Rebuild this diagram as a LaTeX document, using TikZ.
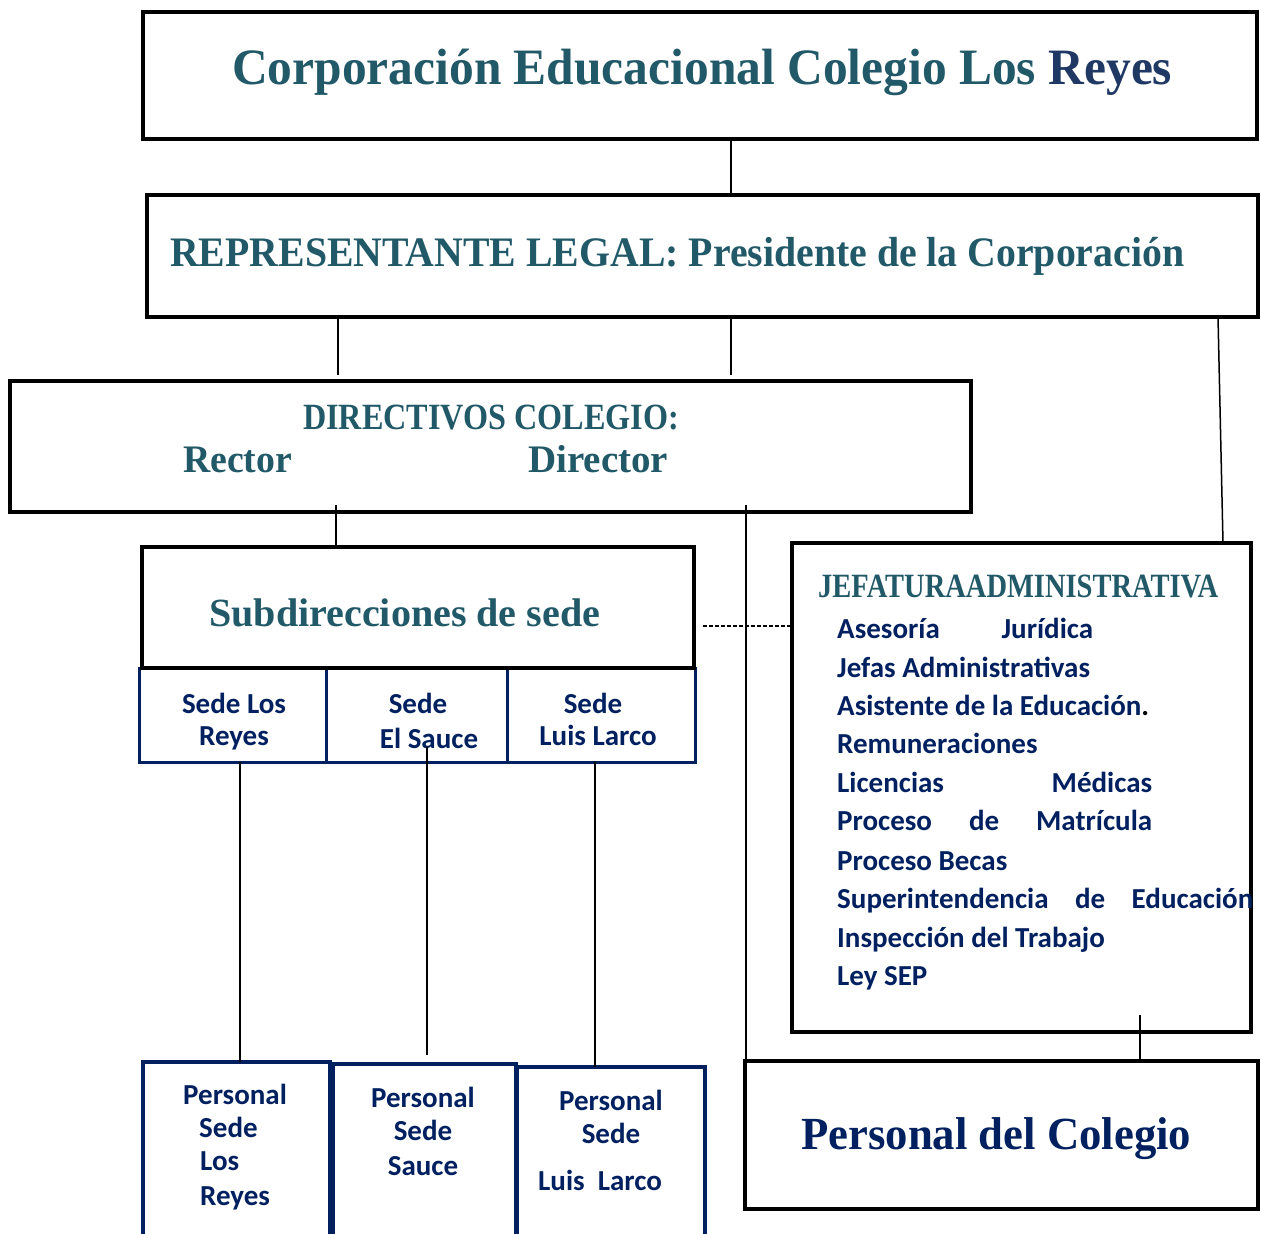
\documentclass[tikz,border=0pt]{standalone}
\usepackage{fontspec}
\usepackage{graphicx}
\setmainfont{Liberation Serif}
\newfontfamily\sansfnt{Carlito}
\definecolor{teal1}{RGB}{33,89,104}
\definecolor{navy1}{RGB}{0,32,96}
\definecolor{reyes1}{RGB}{31,56,100}
\newcommand\headfit[2]{\resizebox{#1}{\height}{#2}}
\tikzset{
  bigbox/.style={draw=black, line width=4.5pt, inner sep=0pt, outer sep=0pt},
  sedebox/.style={draw=navy1, line width=3pt, inner sep=0pt, outer sep=0pt},
  psbox/.style={draw=navy1, line width=4pt, inner sep=0pt, outer sep=0pt},
  conn/.style={draw=black, line width=1.5pt},
  head/.style={text=teal1, inner sep=0pt, anchor=base west},
  itemw/.style={font=\sansfnt\bfseries\fontsize{29}{33}\selectfont, text=navy1, inner sep=0pt, anchor=base west},
  itemc/.style={font=\sansfnt\bfseries\fontsize{29}{33}\selectfont, text=navy1, inner sep=0pt, anchor=base},
}
\begin{document}
\begin{tikzpicture}[x=1pt,y=-1pt]
\clip (0,0) rectangle (1261,1234);
\fill[white] (0,0) rectangle (1261,1234);

% boxes
\node[bigbox, minimum width=1114pt, minimum height=127pt] (title) at (700,75.5) {};
\node[bigbox, minimum width=1111pt, minimum height=122pt] (rep) at (702.5,256) {};
\node[bigbox, minimum width=961pt, minimum height=131pt] (dir) at (490.5,446.5) {};
\node[sedebox, minimum width=187pt, minimum height=94pt] (sedeA) at (232.5,715) {};
\node[sedebox, minimum width=181pt, minimum height=94pt] (sedeB) at (416.5,715) {};
\node[sedebox, minimum width=188pt, minimum height=94pt] (sedeC) at (601,715) {};
\node[bigbox, minimum width=552pt, minimum height=121pt] (sub) at (418,607.5) {};
\node[bigbox, minimum width=459pt, minimum height=489pt] (jef) at (1021.5,787.5) {};
\node[bigbox, minimum width=513pt, minimum height=148pt] (pc) at (1001.5,1135) {};
\node[psbox, minimum width=187pt, minimum height=198pt] (psA) at (236.5,1161) {};
\node[psbox, minimum width=183pt, minimum height=196pt] (psB) at (424.5,1162) {};
\node[psbox, minimum width=188pt, minimum height=193pt] (psC) at (611,1163.5) {};

% headings
\node[head, font=\bfseries\fontsize{51}{60}\selectfont] (tTitle) at (232,84)
  {\headfit{940pt}{Corporación Educacional Colegio Los \textcolor{reyes1}{Reyes}}};
\node[head, font=\bfseries\fontsize{42}{50}\selectfont] (tRep) at (170,266)
  {\headfit{1014pt}{REPRESENTANTE LEGAL: Presidente de la Corporación}};
\node[head, font=\bfseries\fontsize{37}{44}\selectfont] (tDir) at (303,429)
  {\headfit{376pt}{DIRECTIVOS COLEGIO:}};
\node[head, font=\bfseries\fontsize{39}{46}\selectfont] (tRector) at (183,472)
  {\headfit{109pt}{Rector}};
\node[head, font=\bfseries\fontsize{39}{46}\selectfont] (tDirector) at (528,472)
  {\headfit{140pt}{Director}};
\node[head, font=\bfseries\fontsize{40}{47}\selectfont] (tSub) at (209,626)
  {\headfit{391pt}{Subdirecciones de sede}};
\node[head, font=\bfseries\fontsize{34}{40}\selectfont] (tJef) at (818,597)
  {\headfit{400pt}{JEFATURAADMINISTRATIVA}};
\node[head, text=navy1, font=\bfseries\fontsize{46}{54}\selectfont] (tPc) at (801,1149)
  {\headfit{390pt}{Personal del Colegio}};

% sede texts
\node[itemc] (sA1) at (234,713) {Sede Los};
\node[itemc] (sA2) at (234,745) {Reyes};
\node[itemc] (sB1) at (418,713) {Sede};
\node[itemc] (sB2) at (429,748) {El Sauce};
\node[itemc] (sC1) at (593,713) {Sede};
\node[itemc] (sC2) at (598,745) {Luis Larco};

% jefatura items
\node[itemw] (j01) at (837,638) {\hbox to 256pt{Asesoría\hfill Jurídica}};
\node[itemw] (j02) at (837,677) {Jefas Administrativas};
\node[itemw] (j03) at (837,715) {Asistente de la Educación\textcolor{black}{.}};
\node[itemw] (j04) at (837,753) {Remuneraciones};
\node[itemw] (j05) at (837,792) {\hbox to 315pt{Licencias\hfill Médicas}};
\node[itemw] (j06) at (837,830) {\hbox to 315pt{Proceso\hfill de\hfill Matrícula}};
\node[itemw] (j07) at (837,870) {Proceso Becas};
\node[itemw] (j08) at (837,908) {\hbox to 416pt{Superintendencia\hfill de\hfill Educación}};
\node[itemw] (j09) at (837,947) {Inspección del Trabajo};
\node[itemw] (j10) at (837,985) {Ley SEP};

% personal sede texts
\node[itemw] (pA1) at (183,1104) {Personal};
\node[itemw] (pA2) at (199,1137) {Sede};
\node[itemw] (pA3) at (200,1170) {Los};
\node[itemw] (pA4) at (200,1205) {Reyes};
\node[itemc] (pB1) at (423,1107) {Personal};
\node[itemc] (pB2) at (423,1140) {Sede};
\node[itemc] (pB3) at (423,1175) {Sauce};
\node[itemc] (pC1) at (611,1110) {Personal};
\node[itemc] (pC2) at (611,1143) {Sede};
\node[itemc] (pC3) at (600,1190) {Luis\ \ Larco};

% connectors
\coordinate (x731) at (731,0);
\draw[conn] (title.south -| x731) -- (rep.north -| x731);
\coordinate (e1) at (338,375);
\draw[conn] (rep.south -| e1) -- (e1);
\coordinate (e2) at (731,375);
\draw[conn] (rep.south -| e2) -- (e2);
\coordinate (x1218) at (1218,0);
\coordinate (x1223) at (1223,0);
\draw[conn] (rep.south -| x1218) -- (jef.north -| x1223);
\coordinate (s1) at (336,505);
\draw[conn] (s1) -- (sub.north -| s1);
\coordinate (s2) at (746,505);
\draw[conn] (s2) -- (pc.north -| s2);
\coordinate (dsh) at (703,626);
\draw[conn, line width=1.2pt, dash pattern=on 4pt off 2pt] (dsh) -- (jef.west |- dsh);
\coordinate (xA) at (240,0);
\draw[conn] (sedeA.south -| xA) -- (psA.north -| xA);
\coordinate (b1) at (427,747);
\coordinate (b2) at (427,1055);
\draw[conn] (b1) -- (b2);
\coordinate (xC) at (595,0);
\draw[conn] (sedeC.south -| xC) -- (psC.north -| xC);
\coordinate (j1) at (1140,1015);
\draw[conn] (j1) -- (pc.north -| j1);
\end{tikzpicture}
\end{document}
